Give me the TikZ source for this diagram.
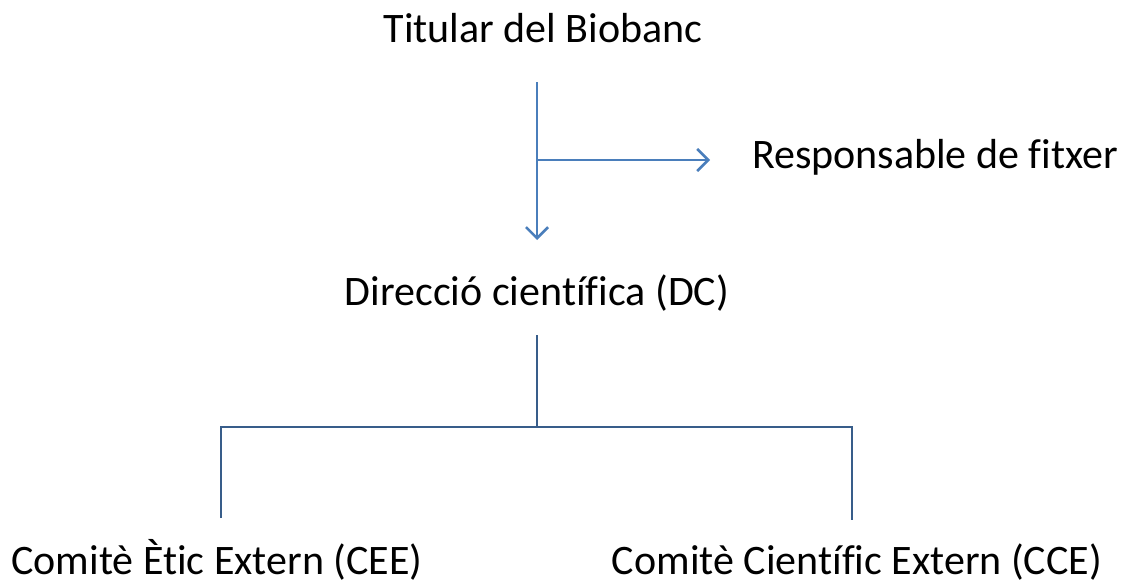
\documentclass[tikz,border=0pt]{standalone}
\usepackage{fontspec}
\setmainfont{Carlito}[Ligatures=NoCommon]
\usetikzlibrary{arrows.meta}
\definecolor{arrowblue}{HTML}{4A7EBB}
\definecolor{treeblue}{HTML}{385D8A}
\tikzset{
  label text/.style={inner sep=0pt,anchor=base,font=\fontsize{42}{50}\selectfont},
  flow/.style={arrowblue,line width=2.6pt,-{Straight Barb[length=11pt,width=22pt,line width=2.6pt]}},
  branch/.style={treeblue,line width=2.6pt,line join=miter},
}
\begin{document}
\begin{tikzpicture}[x=1pt,y=-1pt]
\useasboundingbox (0,0) rectangle (1127,586);
%%
\node (titular) at (543,43) [label text] {Titular del Biobanc};
  \node (responsable) at (935,168) [label text] {Responsable de fitxer};
  \node (direccio) at (537,305) [label text] {Direcció científica (DC)};
  \node (cee) at (217,574) [label text] {Comitè Ètic Extern (CEE)};
  \node (cce) at (857,574) [label text] {Comitè Científic Extern (CCE)};
  \coordinate (top) at (537,82);
  \coordinate (split) at (537,160);
  \coordinate (down) at (537,240);
  \coordinate (side) at (710,160);
  \coordinate (dcfoot) at (537,335);
  \coordinate (joint) at (537,427);
  \coordinate (leftfoot) at (221,518);
  \coordinate (rightfoot) at (852,520);
  \draw [flow] (top) -- (down);
  \draw [flow] (split) -- (side);
  \draw [branch] (dcfoot) -- (joint);
  \draw [branch] (leftfoot) |- (joint) -| (rightfoot);
%
\end{tikzpicture}
\end{document}
